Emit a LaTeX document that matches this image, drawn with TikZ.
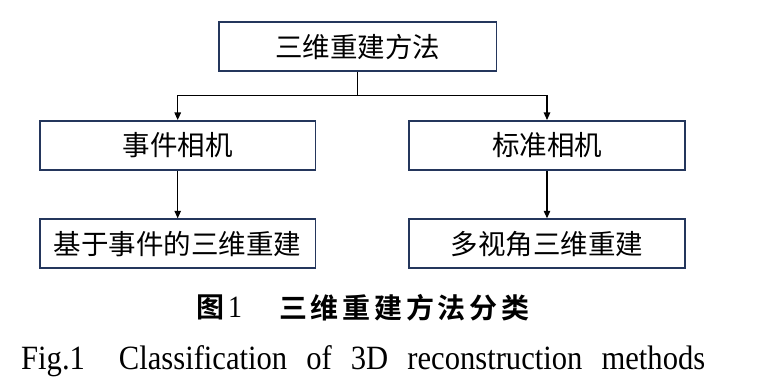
\documentclass[tikz,border=0pt]{standalone}
\usepackage{fontspec}
\usetikzlibrary{arrows.meta}
\newfontfamily\cjk{Noto Sans CJK SC}
\newfontfamily\cjkbold{Noto Sans CJK SC Bold}
\newfontfamily\capserif[FakeStretch=0.9]{Liberation Serif}
\definecolor{boxblue}{RGB}{36,54,92}
\begin{document}
\begin{tikzpicture}[x=1pt,y=-1pt,
  boxnode/.style={draw=boxblue,line width=1.8pt,rectangle,minimum width=275.5pt,minimum height=49pt,inner sep=0pt,font=\cjk\fontsize{27.5}{30}\selectfont},
  conn/.style={line width=1.1pt,black},
  arr/.style={conn,-{Triangle[width=6.5pt,length=7.5pt]}}]
\useasboundingbox (0,0) rectangle (774,390);
\node[boxnode,minimum width=277.5pt] (top) at (357.7,46.5) {三维重建方法};
\node[boxnode] (ev) at (177.7,145.4) {事件相机};
\node[boxnode] (st) at (547,145.4) {标准相机};
\node[boxnode] (evr) at (177.7,243.7) {基于事件的三维重建};
\node[boxnode] (mv) at (547,243.7) {多视角三维重建};
\coordinate (j) at (357.7,95.7);
\draw[conn] (top.south) -- (j);
\draw[arr] (j) -| (ev.north);
\draw[arr] (j) -| (st.north);
\draw[arr] (ev.south) -- (evr.north);
\draw[arr] (st.south) -- (mv.north);
\node[anchor=west,inner sep=0pt,font=\cjkbold\fontsize{28}{30}\selectfont] (cap1) at (196,307.5) {图\hspace{4pt}{\capserif\fontsize{31}{32}\selectfont 1}};
\node[anchor=west,inner sep=0pt,font=\cjkbold\fontsize{28}{30}\selectfont] (cap2) at (279,307.5) {\makebox[250pt][s]{三\hfill 维\hfill 重\hfill 建\hfill 方\hfill 法\hfill 分\hfill 类}};
\node[anchor=base west,inner sep=0pt,font=\capserif\fontsize{34}{36}\selectfont] (cap3) at (21,369) {\makebox[684pt][s]{Fig.1\hspace{34pt}Classification of 3D reconstruction methods}};
\end{tikzpicture}
\end{document}
